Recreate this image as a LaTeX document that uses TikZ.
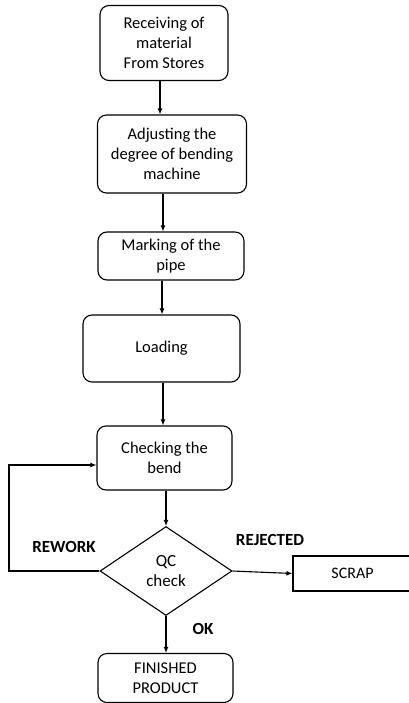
\documentclass[tikz,border=0pt]{standalone}
\usepackage{fontspec}
\setmainfont{Carlito}
\usetikzlibrary{shapes.geometric,arrows.meta}
\begin{document}
\begin{tikzpicture}[x=1pt,y=-1pt,
  box/.style={draw,line width=1.1pt,rounded corners=9pt,align=center,inner sep=0pt,
    font=\fontsize{16.5}{20}\selectfont},
  sqbox/.style={draw,line width=1.1pt,align=center,inner sep=0pt,font=\fontsize{16}{18}\selectfont},
  dec/.style={draw,diamond,line width=1.1pt,align=center,inner sep=0pt,font=\fontsize{17}{20}\selectfont},
  arr/.style={-{Latex[length=6pt,width=5pt]},line width=1.1pt},
  lbl/.style={font=\fontsize{17}{18}\selectfont\bfseries}]
\useasboundingbox (0,0) rectangle (408,703);
\node[box,minimum width=128pt,minimum height=75pt] (b1) at (164,43) {Receiving of\\ material\\ From Stores};
\node[box,minimum width=149pt,minimum height=78pt] (b2) at (172,154) {Adjusting the\\ degree of bending\\ machine};
\node[box,minimum width=146pt,minimum height=48pt] (b3) at (171,256) {Marking of the\\ pipe};
\node[box,minimum width=157pt,minimum height=67pt] (b4) at (161.5,348.5) {Loading};
\node[box,minimum width=135pt,minimum height=64pt] (b5) at (164.5,458) {Checking the\\ bend};
\node[dec,minimum width=132pt,minimum height=89pt] (qc) at (166,571) {QC\\ check};
\node[sqbox,minimum width=119pt,minimum height=35pt,text width=110pt] (scrap) at (352.5,573.5) {SCRAP\hspace*{8pt}};
\node[box,minimum width=135pt,minimum height=49pt] (fin) at (165.5,678) {FINISHED\\ PRODUCT};
\coordinate (rw) at (9,465);
\coordinate (c1) at (160,0);
\coordinate (c2) at (163,0);
\coordinate (c3) at (162,0);
\draw[arr] (b1.south -| c1) -- (b2.north -| c1);
\draw[arr] (b2.south -| c2) -- (b3.north -| c2);
\draw[arr] (b3.south -| c3) -- (b4.north -| c3);
\draw[arr] (b4.south -| c2) -- (b5.north -| c2);
\draw[arr] (b5.south -| qc.north) -- (qc.north);
\draw[arr] (qc.east) -- (scrap.west);
\draw[arr] (qc.south) -- (qc.south |- fin.north);
\draw[arr] (qc.west) -| (rw) -- (rw -| b5.west);
\node[lbl] (lrw) at (64,547) {REWORK};
\node[lbl] (lrj) at (270,540) {REJECTED};
\node[lbl] (lok) at (203,629) {OK};
\end{tikzpicture}
\end{document}
